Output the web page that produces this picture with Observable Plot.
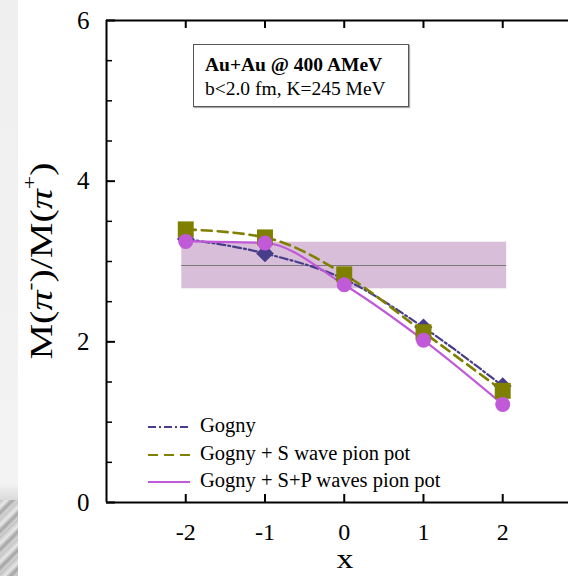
<!DOCTYPE html>
<html>
<head>
<meta charset="utf-8">
<script src="https://cdn.jsdelivr.net/npm/d3@7"></script>
<script src="https://cdn.jsdelivr.net/npm/@observablehq/plot@0.6"></script>
<style>
  html, body { margin: 0; padding: 0; background: #fff; overflow: hidden; }
  #wrap { position: relative; width: 568px; height: 576px; font-family: "Liberation Serif", "Times New Roman", serif; color: #000; }
  #bgstrip { position: absolute; left: 0; top: 0; width: 18px; height: 576px;
    background: linear-gradient(to bottom, #efefef 0%, #f3f3f3 84%, #d8d8d8 87%, #c8c8c8 100%); }
  #bgstreak { position: absolute; left: 0; top: 500px; width: 18px; height: 76px;
    background: repeating-linear-gradient(135deg, #bbb 0px, #eee 5px, #999 9px, #ddd 13px); opacity: 0.8; }
  #chart { position: absolute; left: 0; top: 0; }
  #chart svg text { font-family: "Liberation Serif", "Times New Roman", serif; }
  #ylab { position: absolute; left: 41px; top: 261px; transform: translate(-50%, -50%) rotate(-90deg) scaleX(1.25);
    font-size: 32px; white-space: nowrap; line-height: 1; }
  #ylab sup { font-size: 19px; vertical-align: 0; position: relative; top: -16px; }
  #xlab { position: absolute; left: 345px; top: 560px; transform: translate(-50%, -50%) scaleX(1.25); font-size: 27px; line-height: 0.8; }
  #info { position: absolute; left: 193px; top: 44px; width: 214px; height: 61px; border: 1px solid #555;
    box-shadow: 1px 1px 1px #aaa; background: #fff; box-sizing: content-box; }
  #info div { position: absolute; left: 11px; font-size: 19.5px; white-space: nowrap; line-height: 1; }
  #legend { position: absolute; left: 146px; top: 415px; }
  .lrow { position: absolute; left: 0; height: 24px; white-space: nowrap; }
  .lrow svg { position: absolute; left: 0; top: 6px; }
  .lrow span { position: absolute; left: 54px; top: 0; font-size: 20.5px; line-height: 1; }
</style>
</head>
<body>
<div id="wrap">
  <div id="bgstrip"></div>
  <div id="bgstreak"></div>
  <div id="chart"></div>
  <div id="ylab"></div>
  <div id="xlab"></div>
  <div id="info"></div>
  <div id="legend"></div>
</div>
<script>
// ---- data ----
const xValues = [-2, -1, 0, 1, 2];
const gogny   = [3.28, 3.10, 2.78, 2.18, 1.45];
const gognyS  = [3.40, 3.30, 2.84, 2.12, 1.39];
const gognySP = [3.25, 3.23, 2.71, 2.02, 1.22];
const seriesNames = ["Gogny", "Gogny + S wave pion pot", "Gogny + S+P waves pion pot"];
const bandX = [-2.05, 2.05];
const bandY = [2.66, 3.24];
const bandMid = [2.95];
const xDomain = [-3, 2.83];
const yDomain = [0, 6];
const xTicks = [-2, -1, 0, 1, 2];
const yTicks = [0, 2, 4, 6];
const yMinorTicks = [0.5, 1, 1.5, 2.5, 3, 3.5, 4.5, 5, 5.5];
const infoLines = ["Au+Au @ 400 AMeV", "b<2.0 fm, K=245 MeV"];
const yLabelHtml = 'M(<i>π</i><sup>-</sup>)/M(<i>π</i><sup>+</sup>)';
const xLabel = "x";

// ---- styles ----
const colors = ["#483d8b", "#808000", "#c05ad8"];
const dashes = ["8,3,2,3", "10,6", null];
const widths = [2.2, 2.6, 2.2];
const serif = "Liberation Serif";

const toRows = (ys) => xValues.map((x, i) => ({x, y: ys[i]}));
const series = [toRows(gogny), toRows(gognyS), toRows(gognySP)];
const band = [{x1: bandX[0], x2: bandX[1], y1: bandY[0], y2: bandY[1]}];

const W = 568, H = 576, mL = 106, mR = 0, mT = 20, mB = 74;
const fw = W - mL - mR, fh = H - mT - mB;
const fmt = (d) => String(d);

const plot = Plot.plot({
  width: W, height: H,
  marginLeft: mL, marginRight: mR, marginTop: mT, marginBottom: mB,
  style: {fontFamily: serif, background: "transparent", color: "#000"},
  x: {domain: xDomain, label: null},
  y: {domain: yDomain, label: null},
  marks: [
    Plot.rect(band, {x1: "x1", x2: "x2", y1: "y1", y2: "y2", fill: "#d8bed8"}),
    Plot.ruleY(bandMid, {x1: bandX[0], x2: bandX[1], stroke: "#7a7a7a", strokeWidth: 1.2}),
    ...series.map((d, i) => Plot.line(d, {x: "x", y: "y", curve: "monotone-x", stroke: colors[i],
      strokeWidth: widths[i], strokeDasharray: dashes[i]})),
    Plot.dot(series[0], {x: "x", y: "y", symbol: "diamond2", r: 8, fill: colors[0]}),
    Plot.dot(series[1], {x: "x", y: "y", symbol: "square", r: 9, fill: colors[1]}),
    Plot.dot(series[2], {x: "x", y: "y", symbol: "circle", r: 7.5, fill: colors[2]}),
    // frame lines
    Plot.ruleX([xDomain[0]], {stroke: "#000", strokeWidth: 2}),
    Plot.ruleY(yDomain, {stroke: "#000", strokeWidth: 2}),
    // inward ticks
    Plot.tickY(yTicks, {stroke: "#000", strokeWidth: 2, insetRight: fw - 9}),
    Plot.tickY(yMinorTicks, {stroke: "#000", strokeWidth: 1.5, insetRight: fw - 6}),
    Plot.tickX(xTicks, {stroke: "#000", strokeWidth: 2, insetTop: fh - 8}),
    Plot.tickX(xTicks, {stroke: "#000", strokeWidth: 2, insetBottom: fh - 8}),
    // tick labels
    Plot.axisY({ticks: yTicks, tickFormat: fmt, tickSize: 0, tickPadding: 17, fontSize: 25, fontFamily: serif, anchor: "left", label: null}),
    Plot.axisX({ticks: xTicks, tickFormat: fmt, tickSize: 0, tickPadding: 20, fontSize: 24, fontFamily: serif, anchor: "bottom", label: null})
  ]
});
document.getElementById("chart").appendChild(plot);

document.getElementById("ylab").innerHTML = yLabelHtml;
document.getElementById("xlab").textContent = xLabel;

const info = document.getElementById("info");
infoLines.forEach((t, i) => {
  const d = document.createElement("div");
  d.textContent = t;
  d.style.top = (i === 0 ? 10 : 34) + "px";
  if (i === 0) d.style.fontWeight = "bold";
  info.appendChild(d);
});

const legend = document.getElementById("legend");
seriesNames.forEach((name, i) => {
  const row = document.createElement("div");
  row.className = "lrow";
  row.style.top = (i * 27.5) + "px";
  const dash = dashes[i] ? ` stroke-dasharray="${dashes[i]}"` : "";
  row.innerHTML = `<svg width="46" height="12"><line x1="2" y1="6" x2="44" y2="6" stroke="${colors[i]}" stroke-width="${widths[i] - 0.4}"${dash}/></svg><span></span>`;
  row.querySelector("span").textContent = name;
  legend.appendChild(row);
});
</script>
</body>
</html>
